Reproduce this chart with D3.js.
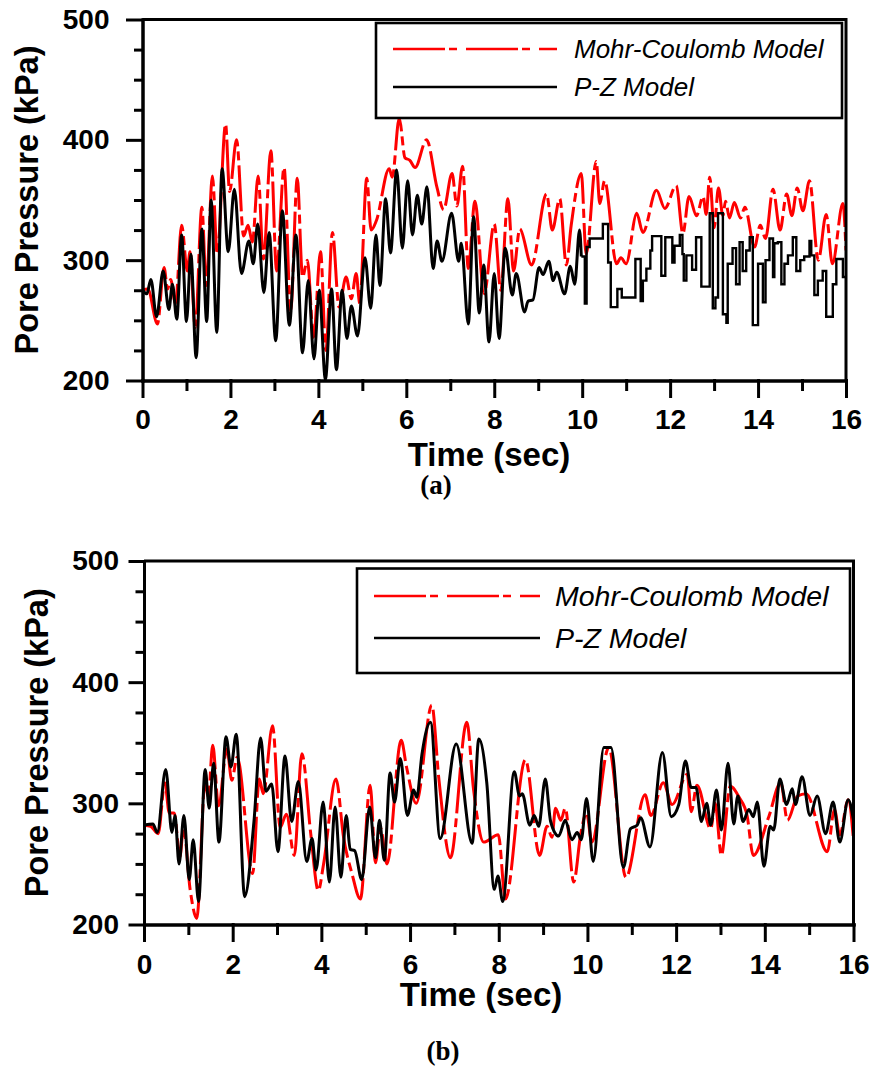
<!DOCTYPE html>
<html>
<head>
<meta charset="utf-8">
<script src="https://cdn.jsdelivr.net/npm/d3@7"></script>
<style>
  body { margin: 0; background: #fff; }
  text { font-family: "Liberation Sans", Arial, sans-serif; }
</style>
</head>
<body>
<svg id="chart" width="871" height="1069"></svg>
<script>
// ---- data: [time (s), pore pressure (kPa)] ----
var xMajor = [0, 2, 4, 6, 8, 10, 12, 14, 16]
var xMinor = [1, 3, 5, 7, 9, 11, 13, 15]
var yMajor = [200, 300, 400, 500]
var yMinor = [225, 250, 275, 325, 350, 375, 425, 450, 475]
var seriesNames = ['Mohr-Coulomb Model', 'P-Z Model']

// (a) Mohr-Coulomb
var mcA = [[0,275],[0.12,276],[0.34,247],[0.49,294],[0.57,276],[0.64,284],[0.75,264],[0.89,329],[1.02,291],[1.08,307],
  [1.2,244],[1.35,344],[1.45,279],[1.59,370],[1.7,305],[1.89,413],[1.98,357],[2.14,400],[2.3,320],[2.4,329],[2.5,315],
  [2.63,370],[2.75,301],[2.92,391],[3.05,291],[3.22,377],[3.37,258],[3.52,368],[3.64,286],[3.75,300],[3.89,236],
  [4.05,307],[4.17,225],[4.32,323],[4.47,261],[4.63,286],[4.75,268],[4.86,289],[4.94,264],[5.1,368],[5.2,325],
  [5.32,333],[5.61,376],[5.68,369],[5.84,418],[5.97,385],[6.08,383],[6.2,377],[6.46,400],[6.7,360],[6.85,342],
  [7.04,372],[7.15,345],[7.28,378],[7.41,293],[7.56,349],[7.77,272],[8.0,330],[8.15,275],[8.31,351],[8.44,291],
  [8.58,326],[8.85,296],[9.19,355],[9.32,325],[9.49,351],[9.64,296],[9.75,329],[9.98,372],[10.09,305],[10.32,382],
  [10.4,347],[10.51,366],[10.78,297],[10.88,302],[11.0,297],[11.24,339],[11.38,323],[11.69,358],[11.88,343],
  [12.14,362],[12.29,322],[12.43,353],[12.6,337],[12.75,353],[12.82,338],[12.9,369],[13.0,327],[13.1,360],
  [13.2,337],[13.26,349],[13.35,335],[13.46,348],[13.6,335],[13.7,344],[13.92,311],[14.05,329],[14.17,318],
  [14.34,359],[14.5,325],[14.65,355],[14.77,337],[14.89,360],[15.02,341],[15.17,366],[15.37,300],[15.55,338],
  [15.69,297],[15.93,347],[16,308]]

// (a) P-Z, smooth part
var pzA = [[0,275],[0.1,272],[0.19,284],[0.32,253],[0.47,291],[0.6,259],[0.68,280],[0.78,251],[0.89,321],[1.0,249],
  [1.1,305],[1.22,219],[1.35,326],[1.46,249],[1.56,350],[1.69,240],[1.81,376],[1.95,307],[2.09,359],[2.25,289],
  [2.42,316],[2.52,297],[2.62,330],[2.76,273],[2.88,323],[3.03,233],[3.18,341],[3.34,246],[3.49,321],[3.64,223],
  [3.77,283],[3.9,218],[4.02,275],[4.16,201],[4.3,276],[4.41,209],[4.54,275],[4.65,235],[4.75,262],[4.89,237],
  [5.06,302],[5.19,260],[5.31,321],[5.4,279],[5.53,351],[5.64,306],[5.78,375],[5.91,310],[6.03,366],[6.14,321],
  [6.25,354],[6.35,330],[6.47,361],[6.61,293],[6.7,316],[6.81,299],[7.03,339],[7.19,299],[7.25,314],[7.41,247],
  [7.53,336],[7.66,256],[7.76,296],[7.88,232],[8.0,289],[8.11,235],[8.25,310],[8.41,271],[8.5,289],[8.69,257],
  [8.77,266],[8.88,267],[9.02,294],[9.11,288],[9.24,299],[9.34,283],[9.42,290],[9.6,272],[9.73,295],[9.83,280],
  [9.94,325],[9.98,303]]

// (a) P-Z, stepped part
var pzAStep = [[9.98,303],[10.06,264],[10.1,311],[10.17,318],[10.47,330],[10.59,298],[10.65,261],[10.8,276],
  [10.9,269],[11.21,301],[11.33,266],[11.38,283],[11.46,293],[11.55,308],[11.59,320],[11.8,287],[11.89,319],
  [12.05,298],[12.1,312],[12.22,321],[12.28,305],[12.31,283],[12.37,304],[12.5,292],[12.59,319],[12.71,278],
  [12.9,339],[12.97,260],[13.03,269],[13.09,339],[13.2,255],[13.28,248],[13.31,297],[13.42,310],[13.5,280],
  [13.58,315],[13.65,291],[13.73,308],[13.81,319],[13.88,246],[14.0,297],[14.11,265],[14.17,300],[14.26,318],
  [14.34,286],[14.37,314],[14.45,315],[14.53,280],[14.6,297],[14.68,304],[14.79,319],[14.87,291],[14.96,300],
  [15.05,303],[15.17,316],[15.21,304],[15.28,271],[15.36,283],[15.47,291],[15.55,253],[15.7,280],[15.78,301],
  [15.93,286],[16,286]]

// (b) Mohr-Coulomb
var mcB = [[0,282],[0.15,281],[0.32,275],[0.47,317],[0.57,292],[0.68,292],[0.81,256],[0.89,280],[1.04,229],
  [1.19,205],[1.38,318],[1.45,305],[1.55,348],[1.68,298],[1.87,345],[1.98,319],[2.1,338],[2.45,242],[2.6,320],
  [2.69,308],[2.9,364],[3.07,280],[3.21,291],[3.39,257],[3.56,341],[3.76,275],[3.93,228],[4.05,250],[4.33,320],
  [4.5,272],[4.69,242],[4.88,221],[5.1,315],[5.22,251],[5.33,280],[5.48,250],[5.8,352],[5.92,330],[6.14,300],
  [6.49,381],[6.65,320],[6.91,255],[7.28,367],[7.43,312],[7.66,268],[7.99,274],[8.15,221],[8.6,336],[8.92,257],
  [9.09,281],[9.2,272],[9.28,296],[9.4,286],[9.5,296],[9.69,235],[9.85,275],[9.98,292],[10.1,268],[10.48,346],
  [10.87,239],[11.3,307],[11.43,290],[11.71,317],[11.91,299],[12.25,324],[12.34,293],[12.47,315],[12.78,279],
  [12.88,300],[13.02,257],[13.22,314],[13.42,305],[13.6,290],[13.74,257],[14.09,289],[14.36,317],[14.51,286],
  [14.74,306],[14.93,308],[15.41,260],[15.57,295],[15.69,274],[15.88,303],[16,270]]

// (b) P-Z
var pzB = [[0,282],[0.2,283],[0.3,276],[0.49,328],[0.63,276],[0.7,290],[0.79,250],[0.9,290],[1.02,237],[1.11,270],
  [1.23,219],[1.38,328],[1.47,296],[1.57,333],[1.69,268],[1.85,355],[1.96,330],[2.08,357],[2.27,223],[2.48,285],
  [2.63,354],[2.75,310],[2.88,316],[3.02,260],[3.18,339],[3.33,285],[3.48,318],[3.67,252],[3.79,271],[3.88,245],
  [4.04,301],[4.18,235],[4.31,297],[4.44,239],[4.56,290],[4.65,262],[4.75,261],[4.91,237],[5.09,297],[5.22,255],
  [5.31,286],[5.42,253],[5.55,325],[5.65,301],[5.78,337],[5.94,290],[6.08,311],[6.15,305],[6.27,341],[6.46,367],
  [6.68,271],[7.04,349],[7.4,267],[7.55,353],[7.73,317],[7.9,229],[7.98,240],[8.09,219],[8.35,326],[8.47,306],
  [8.53,308],[8.7,282],[8.8,290],[8.9,281],[9.05,320],[9.17,285],[9.35,273],[9.5,286],[9.65,270],[9.77,276],
  [9.86,270],[9.98,304],[10.13,252],[10.37,346],[10.53,346],[10.81,247],[10.97,279],[11.12,282],[11.2,288],
  [11.41,264],[11.69,342],[11.89,289],[12.06,299],[12.21,335],[12.34,313],[12.45,313],[12.57,285],[12.69,300],
  [12.78,282],[12.91,311],[13.02,278],[13.17,333],[13.3,283],[13.39,306],[13.51,285],[13.64,295],[13.74,289],
  [13.83,301],[13.98,248],[14.12,281],[14.2,278],[14.34,320],[14.49,299],[14.62,312],[14.69,299],[14.84,322],
  [15.02,290],[15.18,306],[15.37,275],[15.54,301],[15.69,268],[15.88,303],[16,286]]

var svg = d3.select('#chart')
svg.append('rect').attr('width', 871).attr('height', 1069).attr('fill', '#fff')

var panels = [
  { left: 142.5, right: 846, top: 19.5, bottom: 380.5, mc: mcA, pz: pzA, pzStep: pzAStep,
    yTick: 15, yPad: 18, xTick: 16, xPad: 13, yTitleX: 38, xTitleY: 466, xTitleX: 489,
    tag: '(a)', tagX: 436, tagY: 494,
    legend: { x0: 376, x1: 842, y0: 23, y1: 118, lx0: 393, lx1: 557, tx: 574, r1: 49, r2: 87, fs: 26 } },
  { left: 144, right: 853.5, top: 561, bottom: 924.5, mc: mcB, pz: pzB,
    yTick: 14, yPad: 11, xTick: 16, xPad: 14, yTitleX: 48, xTitleY: 1006, xTitleX: 481,
    tag: '(b)', tagX: 443, tagY: 1060,
    legend: { x0: 357, x1: 850, y0: 568.5, y1: 673, lx0: 374, lx1: 540, tx: 555, r1: 596, r2: 638, fs: 28.5 } }
]

function drawPanel(p, i) {
  var x = d3.scaleLinear().domain([0, 16]).range([p.left, p.right])
  var y = d3.scaleLinear().domain([200, 500]).range([p.bottom, p.top])
  var g = svg.append('g')

  g.append('clipPath').attr('id', 'clip' + i)
    .append('rect')
    .attr('x', p.left).attr('y', p.top)
    .attr('width', p.right - p.left).attr('height', p.bottom - p.top)

  var line = d3.line()
    .x(function(d) { return x(d[0]) })
    .y(function(d) { return y(d[1]) })
    .curve(d3.curveMonotoneX)

  var plot = g.append('g').attr('clip-path', 'url(#clip' + i + ')')

  plot.append('path')
    .datum(p.mc)
    .attr('d', line)
    .attr('fill', 'none')
    .attr('stroke', '#ff0000')
    .attr('stroke-width', 3)
    .attr('stroke-dasharray', '46,5,9,5')

  plot.append('path')
    .datum(p.pz)
    .attr('d', line)
    .attr('fill', 'none')
    .attr('stroke', '#000')
    .attr('stroke-width', 3)

  if (p.pzStep) {
    plot.append('path')
      .datum(p.pzStep)
      .attr('d', line.curve(d3.curveStepAfter))
      .attr('fill', 'none')
      .attr('stroke', '#000')
      .attr('stroke-width', 2.4)
  }

  // frame top + right
  g.append('path')
    .attr('d', 'M' + x.range()[0] + ',' + y.range()[1] + 'H' + x.range()[1] + 'V' + y.range()[0])
    .attr('fill', 'none')
    .attr('stroke', '#000')
    .attr('stroke-width', 3)

  // axes
  var yAxis = d3.axisLeft(y).tickValues(yMajor).tickSize(p.yTick).tickPadding(p.yPad).tickSizeOuter(0)
  var yAxisMinor = d3.axisLeft(y).tickValues(yMinor).tickSize(7).tickFormat('').tickSizeOuter(0)
  var xAxis = d3.axisBottom(x).tickValues(xMajor).tickSize(p.xTick).tickPadding(p.xPad).tickSizeOuter(0)
  var xAxisMinor = d3.axisBottom(x).tickValues(xMinor).tickSize(9).tickFormat('').tickSizeOuter(0)

  var gy = g.append('g').attr('transform', 'translate(' + p.left + ',0)')
  gy.call(yAxisMinor)
  gy.append('g').call(yAxis)
  var gx = g.append('g').attr('transform', 'translate(0,' + p.bottom + ')')
  gx.call(xAxisMinor)
  gx.append('g').call(xAxis)

  g.selectAll('.domain, .tick line')
    .attr('stroke', '#000')
    .attr('stroke-width', 3)
    .attr('stroke-linecap', 'square')
  g.selectAll('.tick text')
    .attr('fill', '#000')
    .attr('font-family', '"Liberation Sans", Arial, sans-serif')
    .attr('font-weight', 'bold')
    .attr('font-size', 28)

  // axis titles
  g.append('text')
    .attr('transform', 'translate(' + p.yTitleX + ',' + (p.top + p.bottom) / 2 + ') rotate(-90)')
    .attr('text-anchor', 'middle')
    .attr('font-weight', 'bold')
    .attr('font-size', 32.5)
    .text('Pore Pressure (kPa)')

  g.append('text')
    .attr('x', p.xTitleX)
    .attr('y', p.xTitleY)
    .attr('text-anchor', 'middle')
    .attr('font-weight', 'bold')
    .attr('font-size', 33)
    .text('Time (sec)')

  g.append('text')
    .attr('x', p.tagX)
    .attr('y', p.tagY)
    .attr('text-anchor', 'middle')
    .attr('font-weight', 'bold')
    .attr('font-size', 27)
    .style('font-family', '"Liberation Serif", "Times New Roman", serif')
    .text(p.tag)

  // legend
  var L = p.legend
  g.append('rect')
    .attr('x', L.x0).attr('y', L.y0)
    .attr('width', L.x1 - L.x0).attr('height', L.y1 - L.y0)
    .attr('fill', '#fff')
    .attr('stroke', '#000')
    .attr('stroke-width', 2.6)

  var rows = [
    { y: L.r1, color: '#ff0000', dash: '52,4,8,9' },
    { y: L.r2, color: '#000', dash: null }
  ]
  rows.forEach(function(r, k) {
    g.append('line')
      .attr('x1', L.lx0).attr('x2', L.lx1)
      .attr('y1', r.y).attr('y2', r.y)
      .attr('stroke', r.color)
      .attr('stroke-width', 2.6)
      .attr('stroke-dasharray', r.dash)
    g.append('text')
      .attr('x', L.tx)
      .attr('y', r.y + L.fs * 0.36)
      .attr('font-style', 'italic')
      .attr('font-size', L.fs)
      .text(seriesNames[k])
  })
}

panels.forEach(drawPanel)
</script>
</body>
</html>
